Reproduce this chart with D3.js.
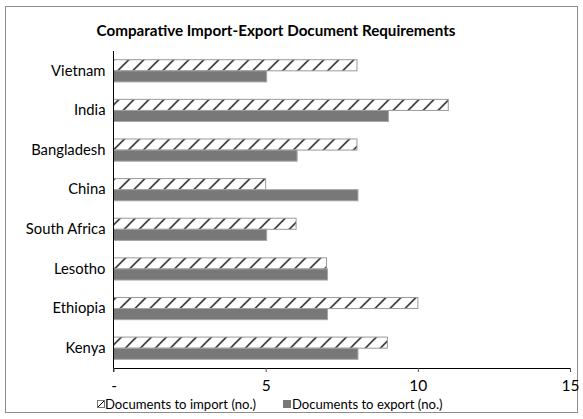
<!DOCTYPE html>
<html><head><meta charset="utf-8">
<script src="https://cdn.jsdelivr.net/npm/d3@7"></script>
<style>body{margin:0;background:#fff}svg{display:block}text{font-family:Lato,"Open Sans",sans-serif;fill:#000}</style>
</head><body>
<svg id="c" width="583" height="419"></svg>
<script>
const title = "Comparative Import-Export Document Requirements";
const categories = ["Vietnam","India","Bangladesh","China","South Africa","Lesotho","Ethiopia","Kenya"];
const importDocs = [8,11,8,5,6,7,10,9];
const exportDocs = [5,9,6,8,5,7,7,8];
const seriesNames = ["Documents to import (no.)","Documents to export (no.)"];
const xTicks = [0,5,10,15];
const xTickLabels = ["-","5","10","15"];

const svg = d3.select("#c");
const W = 583, H = 419;
const m = {left:113.5, right:13, top:51, bottom:51};
svg.append("rect").attr("x",5.5).attr("y",6.5).attr("width",572).attr("height",406)
  .attr("fill","#fff").attr("stroke","#8c8c8c");

const defs = svg.append("defs");
const pat = defs.append("pattern").attr("id","hatch").attr("patternUnits","userSpaceOnUse")
  .attr("width",15).attr("height",15).attr("x",m.left);
pat.append("rect").attr("width",15).attr("height",15).attr("fill","#fff");
pat.append("path").attr("d","M-1,16 L16,-1 M-4,4 L4,-4 M11,19 L19,11").attr("stroke","#000").attr("stroke-width",1.3);

const x = d3.scaleLinear().domain([0,15]).range([m.left, W - m.right]);
const y = d3.scaleBand().domain(categories).range([m.top, H - m.bottom]).paddingInner(0.44).paddingOuter(0.22);
const sub = d3.scaleBand().domain([0,1]).range([0, y.bandwidth()]);

svg.append("text").attr("x",276).attr("y",36).attr("text-anchor","middle")
  .style("font-weight","bold").style("font-size","15.2px").text(title);

const g = svg.append("g");
categories.forEach((c,i)=>{
  g.append("rect").attr("x",x(0)).attr("y",y(c)+sub(0)).attr("width",x(importDocs[i])-x(0)).attr("height",sub.bandwidth())
    .attr("fill","url(#hatch)").attr("stroke","#999").attr("stroke-width",1);
  g.append("rect").attr("x",x(0)).attr("y",y(c)+sub(1)).attr("width",x(exportDocs[i])-x(0)+1).attr("height",sub.bandwidth())
    .attr("fill","#787878").attr("stroke","#a5a5a5").attr("stroke-width",1);
});

// y axis
const yAxis = svg.append("g").attr("transform",`translate(${m.left},0)`)
  .call(d3.axisLeft(y).tickSize(0).tickPadding(8));
yAxis.select(".domain").remove();
yAxis.selectAll("text").style("font-size","14.8px").style("font-family","Lato,sans-serif");
svg.append("line").attr("x1",m.left).attr("x2",m.left).attr("y1",m.top).attr("y2",H-m.bottom+4).attr("stroke","#000");

// x axis
const xAxis = svg.append("g").attr("transform",`translate(0,${H-m.bottom})`)
  .call(d3.axisBottom(x).tickValues(xTicks).tickFormat((d,i)=>xTickLabels[i]).tickSize(4).tickSizeOuter(0).tickPadding(8));
xAxis.select(".domain").attr("stroke","#000");
xAxis.selectAll("line").attr("stroke","#555");
xAxis.selectAll("text").style("font-size","15.5px").style("font-family","Lato,sans-serif");

// legend
const lg = svg.append("g");
lg.append("rect").attr("x",97.5).attr("y",400.5).attr("width",7).attr("height",7).attr("fill","#fff").attr("stroke","#777");
lg.append("path").attr("d","M98,407 L104,401").attr("stroke","#000");
lg.append("text").attr("x",105).attr("y",409).style("font-size","13.1px").text(seriesNames[0]);
lg.append("rect").attr("x",283).attr("y",400).attr("width",8).attr("height",8).attr("fill","#787878");
lg.append("text").attr("x",292).attr("y",409).style("font-size","13.1px").text(seriesNames[1]);
</script></body></html>
